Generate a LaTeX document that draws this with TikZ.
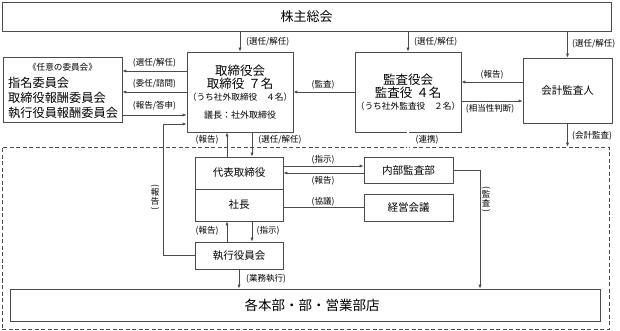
\documentclass[tikz,border=0pt]{standalone}
\usepackage{fontspec}
\setmainfont{Noto Sans CJK JP}
\usepackage{graphicx}
\usetikzlibrary{arrows.meta}
\definecolor{lncol}{gray}{0.3}
\newcommand{\jfs}[1]{\fontsize{#1}{#1}\selectfont}
\newcommand{\vlp}{\rotatebox[origin=c]{-90}{(}}
\newcommand{\vrp}{\rotatebox[origin=c]{-90}{)}}
\begin{document}
\begin{tikzpicture}[x=1pt,y=-1pt,
  box/.style={draw=lncol,line width=0.8pt,inner sep=0pt,rectangle},
  arr/.style={draw=lncol,line width=0.7pt,-{Latex[length=4pt,width=3.2pt]}},
  conn/.style={draw=lncol,line width=0.7pt},
  lbl/.style={inner sep=0pt,font=\jfs{8.5}},
  txt/.style={inner sep=0pt},
]
\useasboundingbox (0,0) rectangle (620,331);

% dashed group
\node[draw=lncol,dash pattern=on 4pt off 2.5pt,line width=0.8pt,inner sep=0pt,
      minimum width=607pt,minimum height=182pt] (grp) at (305.5,238) {};

% boxes
\node[box,minimum width=609pt,minimum height=29pt,font=\jfs{13}] (top) at (306.5,16.5) {株主総会};
\node[box,minimum width=119pt,minimum height=65pt] (nin) at (62.5,89.5) {};
\node[box,minimum width=106pt,minimum height=80pt] (tori) at (240,92) {};
\node[box,minimum width=106pt,minimum height=80pt] (kan) at (408,92) {};
\node[box,minimum width=89pt,minimum height=65pt,font=\jfs{10.5}] (kaikei) at (567.5,90.5) {会計監査人};
\node[box,minimum width=88pt,minimum height=64pt] (daihyo) at (239,189) {};
\node[box,minimum width=89pt,minimum height=26pt,font=\jfs{10.6}] (naibu) at (408.5,170) {内部監査部};
\node[box,minimum width=89pt,minimum height=27pt,font=\jfs{10.5}] (keiei) at (408.5,207.5) {経営会議};
\node[box,minimum width=88pt,minimum height=27pt,font=\jfs{10.5}] (shikko) at (239,255.5) {執行役員会};
\node[box,minimum width=590pt,minimum height=32pt,font=\jfs{13.5}] (kaku) at (305,305) {\hspace*{14pt}各本部・部・営業部店};

% texts inside boxes
\node[txt,font=\jfs{8.6}] (ninh) at (62.5,67) {《任意の委員会》};
\node[txt,font=\jfs{12.2},anchor=west] (nin1) at (8,83) {指名委員会};
\node[txt,font=\jfs{12.2},anchor=west] (nin2) at (8,98) {取締役報酬委員会};
\node[txt,font=\jfs{12.2},anchor=west] (nin3) at (8,112.5) {執行役員報酬委員会};

\node[txt,font=\jfs{12.5}] (tori1) at (240,71) {取締役会};
\node[txt,font=\jfs{12.5}] (tori2) at (240,84) {取締役\hspace{4pt}７名};
\node[txt,font=\jfs{8.7}] (tori3) at (240,97.5) {（うち社外取締役　４名）};
\node[txt,font=\jfs{9}] (tori4) at (240,115) {議長：社外取締役};

\node[txt,font=\jfs{12.5}] (kan1) at (408,80) {監査役会};
\node[txt,font=\jfs{12.5}] (kan2) at (408,93) {監査役\hspace{4pt}４名};
\node[txt,font=\jfs{8.7}] (kan3) at (408,106.5) {（うち社外監査役　２名）};

\draw[conn] (daihyo.west) -- (daihyo.east);
\node[txt,font=\jfs{10.5}] (dai1) at (239,173) {代表取締役};
\node[txt,font=\jfs{10.5}] (dai2) at (239,205) {社長};

% connectors
\draw[arr] (top.south -| tori.north) -- (tori.north);
\draw[arr] (top.south -| kan.north) -- (kan.north);
\draw[arr] (top.south -| kaikei.north) -- (kaikei.north);

\draw[arr] (tori.west |- 0,71) -- (nin.east |- 0,71);
\draw[arr] (tori.west |- 0,92) -- (nin.east |- 0,92);
\draw[arr] (nin.east |- 0,115) -- (tori.west |- 0,115);

\draw[arr] (kan.west) -- (tori.east);
\draw[arr] (kaikei.west |- 0,82) -- (kan.east |- 0,82);
\draw[arr] (kan.east |- 0,101) -- (kaikei.west |- 0,101);
\draw[arr] (kaikei.south) -- (kaikei.south |- grp.north);

\draw[lncol,line width=0.6pt,double=white,double distance=1.6pt] (kan.south) -- (kan.south |- naibu.north);

\draw[arr] (227,0 |- daihyo.north) -- (227,0 |- tori.south);
\draw[arr] (252,0 |- tori.south) -- (252,0 |- daihyo.north);

\draw[arr] (daihyo.east |- 0,166) -- (naibu.west |- 0,166);
\draw[arr] (naibu.west |- 0,173) -- (daihyo.east |- 0,173);
\draw[conn] (daihyo.east |- keiei.west) -- (keiei.west);

\coordinate (audx) at (480,170);
\draw[arr] (naibu.east) -- (audx) -- (audx |- kaku.north);

\draw[arr] (227,0 |- shikko.north) -- (227,0 |- daihyo.south);
\draw[arr] (252,0 |- daihyo.south) -- (252,0 |- shikko.north);

\coordinate (repb) at (163,124);
\draw[arr] (shikko.west) -| (repb) -- (tori.west |- repb);

\draw[arr] (shikko.south) -- (shikko.south |- kaku.north);

% labels
\node[lbl,anchor=west] (l1) at (246,42) {(選任/解任)};
\node[lbl,anchor=west] (l2) at (414,42) {(選任/解任)};
\node[lbl,anchor=west] (l3) at (572,44) {(選任/解任)};
\node[lbl] (l4) at (154.5,63) {(選任/解任)};
\node[lbl] (l5) at (154.5,84) {(委任/諮問)};
\node[lbl] (l6) at (154.5,106) {(報告/答申)};
\node[lbl] (l7) at (323,85) {(監査)};
\node[lbl] (l8) at (492,75) {(報告)};
\node[lbl] (l9) at (490,108.5) {(相当性判断)};
\node[lbl] (l10) at (592,136) {(会計監査)};
\node[lbl] (l11) at (427,139.5) {(連携)};
\node[lbl] (l12) at (207,140) {(報告)};
\node[lbl] (l13) at (280,140) {(選任/解任)};
\node[lbl] (l14) at (323,160) {(指示)};
\node[lbl] (l15) at (323,181) {(報告)};
\node[lbl] (l16) at (323,202) {(協議)};
\node[lbl] (l17) at (207,231) {(報告)};
\node[lbl] (l18) at (268,231) {(指示)};
\node[lbl] (l19) at (266,279) {(業務執行)};
\node[lbl,align=center,font=\jfs{8.5}] (l20) at (155,198) {\vlp\\[-1pt]報\\告\\[-1pt]\vrp};
\node[lbl,align=center,font=\jfs{8.5}] (l21) at (486,200) {\vlp\\[-1pt]監\\査\\[-1pt]\vrp};
\end{tikzpicture}
\end{document}
